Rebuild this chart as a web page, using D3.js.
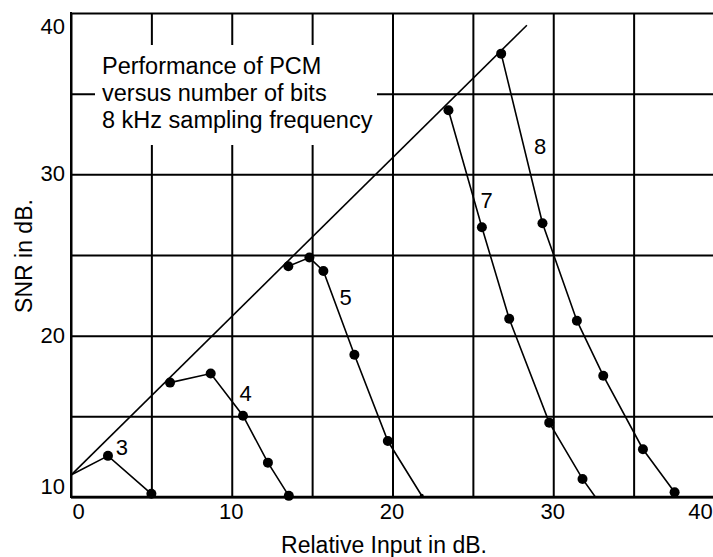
<!DOCTYPE html>
<html><head><meta charset="utf-8">
<script src="https://cdn.jsdelivr.net/npm/d3@7/dist/d3.min.js"></script>
<style>
body{margin:0;background:#fff}
svg text{font-family:"Liberation Sans",Arial,Helvetica,sans-serif;fill:#000}
</style>
</head><body>
<svg id="chart" width="713" height="557"></svg>
<script>
// ---- data ----
const xTicks = [0, 5, 10, 15, 20, 25, 30, 35, 40];
const xTickLabels = ["0", "", "10", "", "20", "", "30", "", "40"];
const yTicks = [10, 15, 20, 25, 30, 35, 40];
const yTickLabels = ["10", "", "20", "", "30", "", "40"];

const envelope = [[0, 11.36], [28.36, 39.24]];
const bits3 = [[0, 11.36], [2.3, 12.55], [5.0, 10.2]];
const bits4 = [[6.16, 17.09], [8.69, 17.65], [10.7, 15.04], [12.25, 12.13], [13.55, 10.07]];
const bits5 = [[13.52, 24.3], [14.83, 24.84], [15.7, 24.01], [17.63, 18.82], [19.71, 13.47], [21.82, 10.08]];
const bits7 = [[23.48, 33.97], [25.56, 26.72], [27.26, 21.05], [29.75, 14.61], [31.82, 11.12], [32.61, 10.02]];
const bits8 = [[26.76, 37.48], [29.33, 26.97], [31.47, 20.93], [33.11, 17.52], [35.58, 12.96], [37.55, 10.29]];
const curveNames = ["3", "4", "5", "7", "8"];
const curveLabelAt = [[3.17, 13.1], [10.87, 16.43], [17.09, 22.42], [25.86, 28.41], [29.19, 31.76]];

const titleLines = ["Performance of PCM", "versus number of bits", "8 kHz sampling frequency"];
const xTitle = "Relative Input in dB.";
const yTitle = "SNR in dB.";

// ---- drawing ----
const svg = d3.select("#chart");
const L = 71, R = 714, T = 13, B = 497;
const x = d3.scaleLinear().domain([0, 40]).range([L, R]);
const y = d3.scaleLinear().domain([10, 40]).range([B, T]);

// vertical grid via bottom axis
const gx = svg.append("g").attr("transform", `translate(0,${B})`)
  .call(d3.axisBottom(x).tickValues(xTicks).tickSizeInner(-(B - T)).tickSizeOuter(0)
    .tickFormat((d, i) => xTickLabels[i]));
gx.select(".domain").remove();
gx.selectAll(".tick line").attr("stroke", "#000").attr("stroke-width", 2);
gx.selectAll(".tick text").attr("font-size", 22).attr("fill", "#000")
  .attr("y", 0).attr("dy", 22)
  .attr("dx", (d) => d === 0 ? 7 : (d === 40 ? -14 : -1));

// horizontal grid via left axis
const gy = svg.append("g").attr("transform", `translate(${L},0)`)
  .call(d3.axisLeft(y).tickValues(yTicks).tickSizeInner(-(713 - L)).tickSizeOuter(0)
    .tickFormat((d, i) => yTickLabels[i]));
gy.select(".domain").remove();
gy.selectAll(".tick line").attr("stroke", "#000").attr("stroke-width", 2);
gy.selectAll(".tick text").attr("font-size", 22).attr("fill", "#000")
  .attr("x", -6).attr("dy", (d) => d === 40 ? "0.95em" : (d === 10 ? "-0.15em" : "0.3em"));

// axis frame lines
svg.append("line").attr("x1", L).attr("x2", L).attr("y1", T - 1).attr("y2", B + 1)
  .attr("stroke", "#000").attr("stroke-width", 2);
svg.append("line").attr("x1", L).attr("x2", 713).attr("y1", B).attr("y2", B)
  .attr("stroke", "#000").attr("stroke-width", 2.5);

// white annotation box
svg.append("rect").attr("x", 95).attr("y", 45).attr("width", 282).attr("height", 100).attr("fill", "#fff");
svg.append("g").selectAll("text").data(titleLines).join("text")
  .attr("x", 102).attr("y", (d, i) => 74 + i * 27)
  .attr("font-size", 23.5).text(d => d);

// envelope line
const line = d3.line().x(d => x(d[0])).y(d => y(d[1]));
svg.append("path").attr("d", line(envelope)).attr("fill", "none").attr("stroke", "#000").attr("stroke-width", 1.6);

const curves = [bits3, bits4, bits5, bits7, bits8];
curves.forEach((c, ci) => {
  svg.append("path").attr("d", line(c)).attr("fill", "none").attr("stroke", "#000").attr("stroke-width", 1.6);
  svg.append("g").selectAll("circle").data(c).join("circle")
    .filter((d, i) => !(ci === 0 && i === 0) && !(ci === 3 && i === c.length - 1))
    .attr("cx", d => x(d[0])).attr("cy", d => y(d[1]))
    .attr("r", (d, i) => (ci === 2 && i === c.length - 1) ? 2 : 5)
    .attr("fill", "#000");
});

svg.append("g").selectAll("text").data(curveNames).join("text")
  .attr("x", (d, i) => x(curveLabelAt[i][0])).attr("y", (d, i) => y(curveLabelAt[i][1]))
  .attr("text-anchor", "middle").attr("dy", "0.36em").attr("font-size", 22).text(d => d);

// axis titles
svg.append("text").attr("x", 384).attr("y", 553).attr("text-anchor", "middle")
  .attr("font-size", 23).text(xTitle);
svg.append("text").attr("transform", "translate(32,256) rotate(-90)").attr("text-anchor", "middle")
  .attr("font-size", 23).text(yTitle);
</script>
</body></html>
